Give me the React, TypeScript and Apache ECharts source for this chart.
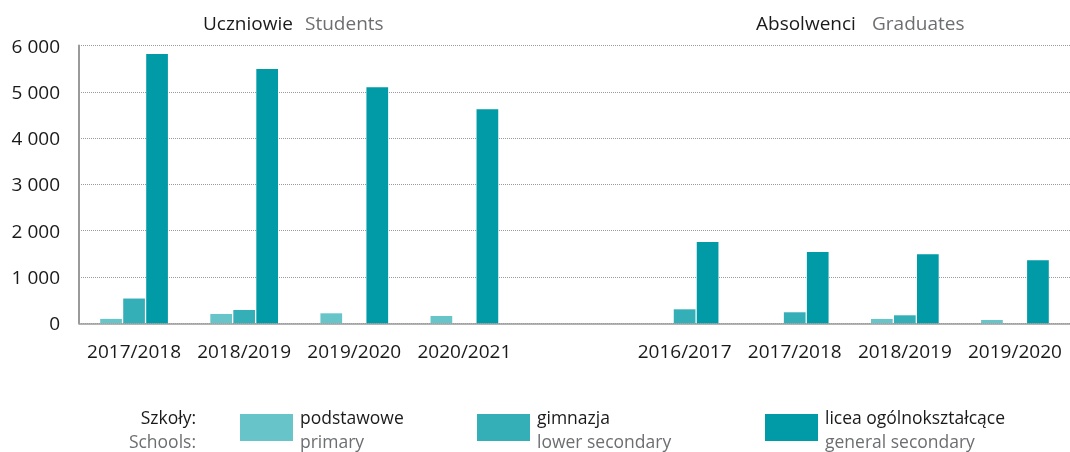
import React, { useEffect, useRef } from "react";
import * as echarts from "echarts";

const categories = ["2017/2018", "2018/2019", "2019/2020", "2020/2021", "", "2016/2017", "2017/2018", "2018/2019", "2019/2020"];
const primary = [95, 202, 216, 158, null, null, null, 94, 72];
const lowerSecondary = [535, 288, null, null, null, 302, 238, 173, null];
const generalSecondary = [5817, 5493, 5097, 4622, null, 1756, 1540, 1490, 1361];
const yTicks = [0, 1000, 2000, 3000, 4000, 5000, 6000];

const seriesNamesPl = ["podstawowe", "gimnazja", "licea ogólnokształcące"];
const seriesNamesEn = ["primary", "lower secondary", "general secondary"];
const colors = ["#67C4C9", "#35AFB7", "#009BA6"];

const FONT = "'Open Sans', 'Noto Sans', sans-serif";
const DARK = "#1a1a1a";
const GREY = "#6d6e71";
const LEG_FONT = `17.5px ${FONT}`;

export default function App() {
  const ref = useRef<HTMLDivElement>(null);
  useEffect(() => {
    if (!ref.current) return;
    const chart = echarts.init(ref.current, undefined, { renderer: "svg" });
    const values = [primary, lowerSecondary, generalSecondary];
    const legendLefts = [240, 477, 765];
    const legendGraphics: any[] = [];
    seriesNamesPl.forEach((n, i) => {
      legendGraphics.push({
        type: "rect",
        shape: { x: legendLefts[i], y: 414, width: 53, height: 27 },
        style: { fill: colors[i] },
      });
      legendGraphics.push({
        type: "text",
        x: legendLefts[i] + 60,
        y: 416.5,
        style: { text: n, fill: DARK, font: LEG_FONT, textVerticalAlign: "middle" },
      });
      legendGraphics.push({
        type: "text",
        x: legendLefts[i] + 60,
        y: 440.5,
        style: { text: seriesNamesEn[i], fill: GREY, font: LEG_FONT, textVerticalAlign: "middle" },
      });
    });
    const option: any = {
      animation: false,
      textStyle: { fontFamily: FONT },
      grid: { left: 79, width: 993, top: 45.5, bottom: 128.7, containLabel: false },
      xAxis: {
        type: "category",
        data: categories,
        axisTick: { show: false },
        axisLine: { show: true, lineStyle: { color: "#9a9a9a", width: 1.5 } },
        axisLabel: { color: DARK, fontSize: 19, fontFamily: FONT, margin: 18, interval: 0 },
      },
      yAxis: {
        type: "value",
        min: 0,
        max: yTicks[yTicks.length - 1],
        interval: 1000,
        axisLine: { show: true, lineStyle: { color: "#9a9a9a", width: 2 } },
        axisTick: { show: false },
        splitLine: { show: true, lineStyle: { color: "#9a9a9a", type: "dotted", width: 1 } },
        axisLabel: {
          color: DARK,
          fontSize: 19,
          fontFamily: FONT,
          margin: 19,
          formatter: (v: number) => (v >= 1000 ? `${Math.floor(v / 1000)} ${String(v % 1000).padStart(3, "0")}` : String(v)),
        },
      },
      series: seriesNamesPl.map((n, i) => ({
        name: n,
        type: "bar",
        data: values[i],
        barWidth: 21.7,
        barGap: "6%",
        itemStyle: { color: colors[i] },
      })),
      graphic: [
        { type: "text", x: 203, y: 23, style: { text: "Uczniowie", fill: DARK, font: `19px ${FONT}`, textVerticalAlign: "middle" } },
        { type: "text", x: 305, y: 23, style: { text: "Students", fill: GREY, font: `19px ${FONT}`, textVerticalAlign: "middle" } },
        { type: "text", x: 756, y: 23, style: { text: "Absolwenci", fill: DARK, font: `19px ${FONT}`, textVerticalAlign: "middle" } },
        { type: "text", x: 872, y: 23, style: { text: "Graduates", fill: GREY, font: `19px ${FONT}`, textVerticalAlign: "middle" } },
        { type: "text", x: 196, y: 416.5, style: { text: "Szkoły:", fill: DARK, font: LEG_FONT, textAlign: "right", textVerticalAlign: "middle" } },
        { type: "text", x: 196, y: 440.5, style: { text: "Schools:", fill: GREY, font: LEG_FONT, textAlign: "right", textVerticalAlign: "middle" } },
        ...legendGraphics,
      ],
    };
    chart.setOption(option);
    return () => chart.dispose();
  }, []);
  return <div ref={ref} style={{ position: "fixed", left: 0, top: 0, width: 1070, height: 452 }} />;
}
